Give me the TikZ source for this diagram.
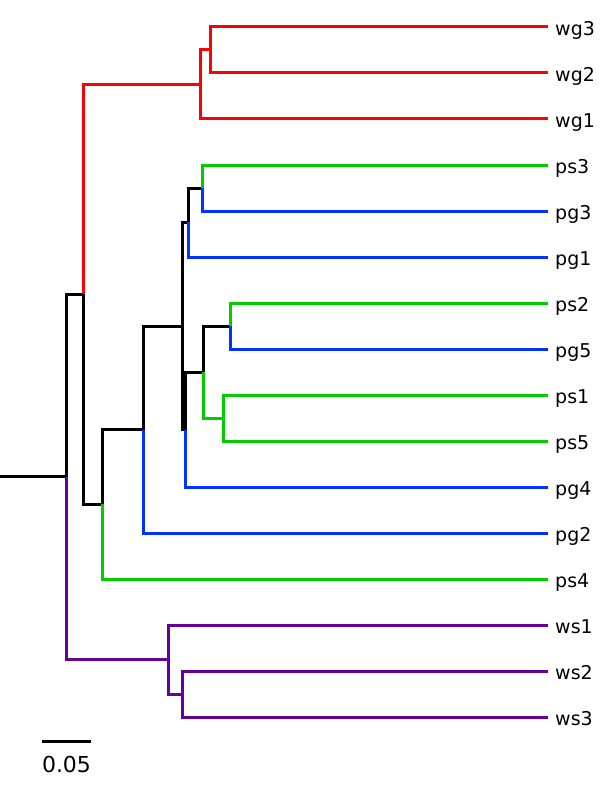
\documentclass[tikz,border=0pt]{standalone}
\usepackage{fontspec}
\setmainfont{DejaVu Sans}
\definecolor{tred}{RGB}{255,0,0}
\definecolor{tgreen}{RGB}{0,204,0}
\definecolor{tblue}{RGB}{0,51,255}
\definecolor{tpurple}{RGB}{102,0,153}
\begin{document}
\begin{tikzpicture}[x=1pt,y=-1pt,
  br/.style={line width=3pt,line join=miter},
  lab/.style={anchor=base west,inner sep=0pt,font=\fontsize{19}{22}\selectfont},
  sclab/.style={anchor=base,inner sep=0pt,font=\fontsize{22}{26}\selectfont}]
\useasboundingbox (0,0) rectangle (615,789);
% internal nodes
\coordinate (root) at (0,476.5);
\coordinate (R) at (66,476.5);
\coordinate (A) at (83,294);
\coordinate (Red) at (200,84.5);
\coordinate (R2) at (210,50);
\coordinate (B) at (102,504);
\coordinate (C) at (143,429.5);
\coordinate (D) at (182,326);
\coordinate (E) at (188,222);
\coordinate (G) at (202,188);
\coordinate (F) at (185,429.5);
\coordinate (H) at (203,372);
\coordinate (I) at (230,326);
\coordinate (J) at (223,418);
\coordinate (W) at (168,659);
\coordinate (K) at (182,694);
% leaves
\foreach \n/\y in {wg3/27,wg2/73,wg1/119,ps3/165,pg3/211,pg1/257,ps2/303,pg5/349,ps1/395,ps5/441,pg4/487,pg2/533,ps4/579,ws1/625,ws2/671,ws3/717}{
  \coordinate (l\n) at (548,\y);
  \node[lab] (t\n) at (555,\y+8.5) {\n};
}
% black backbone
\draw[br] (root) -- (R);
\draw[br] (R) |- (A);
\draw[br] (A) |- (B);
\draw[br] (B) |- (C);
\draw[br] (C) |- (D);
\draw[br] (D) |- (E);
\draw[br] (D) |- (F);
\draw[br] (E) |- (G);
\draw[br] (F) |- (H);
\draw[br] (H) |- (I);
% red clade
\draw[br,tred] (A) |- (Red);
\draw[br,tred] (Red) |- (R2);
\draw[br,tred] (R2) |- (lwg3);
\draw[br,tred] (R2) |- (lwg2);
\draw[br,tred] (Red) |- (lwg1);
% green/blue
\draw[br,tgreen] (G) |- (lps3);
\draw[br,tblue] (G) |- (lpg3);
\draw[br,tblue] (E) |- (lpg1);
\draw[br,tgreen] (I) |- (lps2);
\draw[br,tblue] (I) |- (lpg5);
\draw[br,tgreen] (H) |- (J);
\draw[br,tgreen] (J) |- (lps1);
\draw[br,tgreen] (J) |- (lps5);
\draw[br,tblue] (F) |- (lpg4);
\draw[br,tblue] (C) |- (lpg2);
\draw[br,tgreen] (B) |- (lps4);
% purple clade
\draw[br,tpurple] (R) |- (W);
\draw[br,tpurple] (W) |- (lws1);
\draw[br,tpurple] (W) |- (K);
\draw[br,tpurple] (K) |- (lws2);
\draw[br,tpurple] (K) |- (lws3);
% scale bar
\coordinate (s1) at (42,741);
\coordinate (s2) at (91,741);
\draw[line width=3pt] (s1) -- (s2);
\node[sclab] (scl) at (66.5,772) {0.05};
\end{tikzpicture}
\end{document}
